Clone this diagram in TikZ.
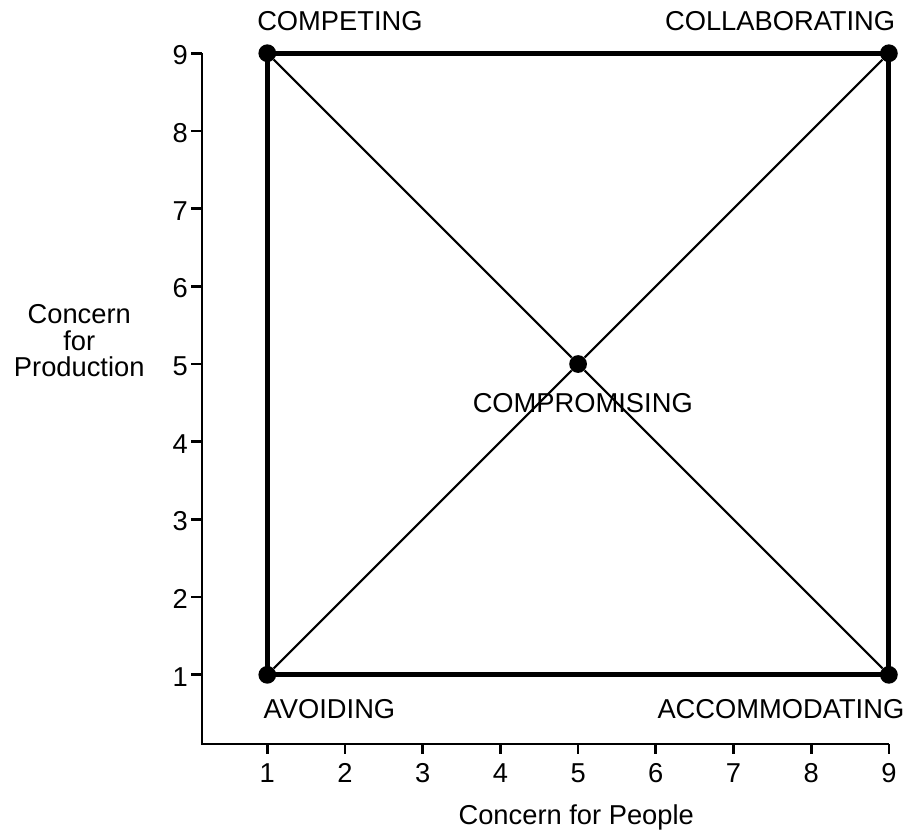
\documentclass[tikz,border=0pt]{standalone}
\usepackage{fontspec}
\setmainfont{Liberation Sans}
\begin{document}
\begin{tikzpicture}[x=2cm,y=2cm,
	every node/.style={font=\fontsize{20}{19.5}\selectfont},
	dot/.style={circle,fill,inner sep=0pt,minimum size=13pt},
	side/.style={line width=3.6pt},
	diag/.style={line width=1.6pt},
	axis/.style={line width=2pt}]
	\useasboundingbox (-2.44,-1.022) rectangle (9.246,9.685);
	%axes
	\coordinate (o) at (0.159,0.109);
	\coordinate (xend) at (9,0.109);
	\coordinate (yend) at (0.159,9);
	\draw[axis] (yend)--(o)--(xend);
	\foreach \x in {1,...,9}{
		\draw[axis] (\x,0.109)--(\x,-0.019);
		\node[anchor=base] (xl\x) at (\x,-0.39) {\x};}
	\foreach \y in {1,...,9}{
		\draw[axis] (0.159,\y)--(0.017,\y);
		\node[anchor=east,inner sep=0pt,yshift=-1.5pt] (yl\y) at (-0.02,\y) {\y};}
	\node[anchor=base] (xlab) at (4.976,-0.932) {Concern for People};
	\node[align=center] (ylab) at (-1.42,5.30) {Concern\\for\\Production};
	%styles
	\node[dot] (avoid) at (1,1) {};
	\node[dot] (compet) at (1,9) {};
	\node[dot] (collab) at (9,9) {};
	\node[dot] (accom) at (9,1) {};
	\node[dot] (compro) at (5,5) {};
	\draw[side] (avoid.center)--(compet.center)--(collab.center)--(accom.center)--cycle;
	\draw[diag] (avoid)--(compro)--(collab);
	\draw[diag] (compet)--(compro)--(accom);
	\node[anchor=base] (lcompet) at (1.935,9.287) {COMPETING};
	\node[anchor=base] (lcollab) at (7.60,9.287) {COLLABORATING};
	\node[anchor=base] (lavoid) at (1.80,0.443) {AVOIDING};
	\node[anchor=base] (laccom) at (7.61,0.443) {ACCOMMODATING};
	\node[anchor=base] (lcompro) at (5.06,4.377) {COMPROMISING};
\end{tikzpicture}
\end{document}
